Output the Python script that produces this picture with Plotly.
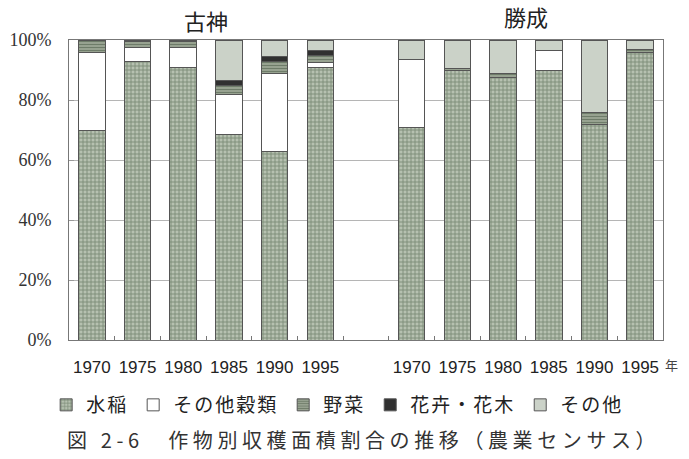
import plotly.graph_objects as go

years = ["1970", "1975", "1980", "1985", "1990", "1995"]
groups = ["古神", "勝成"]
series_names = ["水稲", "その他穀類", "野菜", "花卉・花木", "その他"]
y_ticks = [0, 20, 40, 60, 80, 100]

kogami_rice = [70, 93, 91, 68.5, 63, 91]
kogami_grain = [26, 4.5, 6.5, 13.5, 26, 1.5]
kogami_veg = [4, 2, 2, 3, 4, 2.5]
kogami_flower = [0, 0.5, 0.5, 1.5, 1.5, 1.5]
kogami_other = [0, 0, 0, 13.5, 5.5, 3.5]

katsu_rice = [71, 90, 87.5, 90, 72, 96]
katsu_grain = [22.5, 0, 0, 6.5, 0, 0]
katsu_veg = [0, 0.5, 1.5, 0, 4, 1]
katsu_flower = [0, 0, 0, 0, 0, 0]
katsu_other = [6.5, 9.5, 11, 3.5, 24, 3]

n = len(years)
x1 = list(range(n))
x2 = [n + 1 + i for i in range(n)]
xs = x1 + x2

data = [
    kogami_rice + katsu_rice,
    kogami_grain + katsu_grain,
    kogami_veg + katsu_veg,
    kogami_flower + katsu_flower,
    kogami_other + katsu_other,
]

styles = [
    dict(color="#b6c1b0", pattern=dict(shape="+", fgcolor="#41543b", size=4, solidity=0.4)),
    dict(color="#ffffff"),
    dict(color="#a3af9d", pattern=dict(shape="-", fgcolor="#3a4936", size=3, solidity=0.5)),
    dict(color="#303030"),
    dict(color="#cbd2c8"),
]

def spaced(t, px=3):
    return f'<span style="letter-spacing:{px}px">{t}</span>'

fig = go.Figure()
for name, vals, st in zip(series_names, data, styles):
    fig.add_trace(go.Bar(
        x=xs, y=vals, name=spaced(name, 2), width=0.58,
        marker=dict(line=dict(color="#555555", width=1), **st),
    ))

fig.update_layout(
    barmode="stack",
    width=689, height=459,
    margin=dict(l=69, r=26, t=40, b=119, autoexpand=False),
    paper_bgcolor="white", plot_bgcolor="white",
    showlegend=True,
    legend=dict(orientation="h", xref="container", yref="container",
                x=0.067, y=1 - 405 / 459, xanchor="left", yanchor="middle",
                font=dict(family="Noto Sans CJK JP", size=19, color="#222"),
                itemwidth=30, traceorder="normal"),
    font=dict(family="Noto Sans CJK JP", color="#222"),
)

fig.update_xaxes(
    range=[-0.5, 2 * n + 0.5], automargin=False,
    tickmode="array", tickvals=xs, ticktext=years + years,
    tickfont=dict(family="Liberation Sans Narrow, Liberation Sans", size=17, color="#222"),
    ticks="", ticklabelstandoff=12,
    showline=True, linecolor="#777", mirror=True, showgrid=False, zeroline=False,
    minor=dict(tickmode="array", tickvals=[i + 0.5 for i in range(2 * n)],
               ticks="inside", ticklen=4, tickcolor="#777"),
)
fig.update_yaxes(
    range=[0, 100], automargin=False,
    tickmode="array", tickvals=y_ticks, ticktext=[f"{v}%" for v in y_ticks],
    tickfont=dict(family="Liberation Serif, DejaVu Serif", size=18, color="#333"),
    ticks="inside", ticklen=5, tickcolor="#999", ticklabelstandoff=13,
    showline=True, linecolor="#777", mirror=True,
    showgrid=True, gridcolor="#b5b5b5", gridwidth=1, zeroline=False,
)

title_y = [1.067, 1.08]
for gi, g in enumerate(groups):
    xc = (x1 if gi == 0 else x2)
    fig.add_annotation(x=(xc[0] + xc[-1]) / 2, xref="x", y=title_y[gi], yref="paper",
                       yanchor="middle", showarrow=False, text=g,
                       font=dict(family="Noto Sans CJK JP", size=22, color="#222"))

fig.add_annotation(x=1.014, xref="paper", xanchor="center", y=-0.08, yref="paper",
                   yanchor="middle", showarrow=False, text="年",
                   font=dict(family="Noto Sans CJK JP", size=13, color="#444"))

fig.add_annotation(x=-0.007, xref="paper", xanchor="left", y=-0.333, yref="paper",
                   yanchor="middle", showarrow=False,
                   text=spaced("図 2-6　作物別収穫面積割合の推移（農業センサス）", 4.6),
                   font=dict(family="Noto Sans CJK JP", size=20, color="#333"))

fig.write_html("out.html", config={"displayModeBar": False},
               post_script="document.body.style.margin='0';document.body.style.overflow='hidden';")
